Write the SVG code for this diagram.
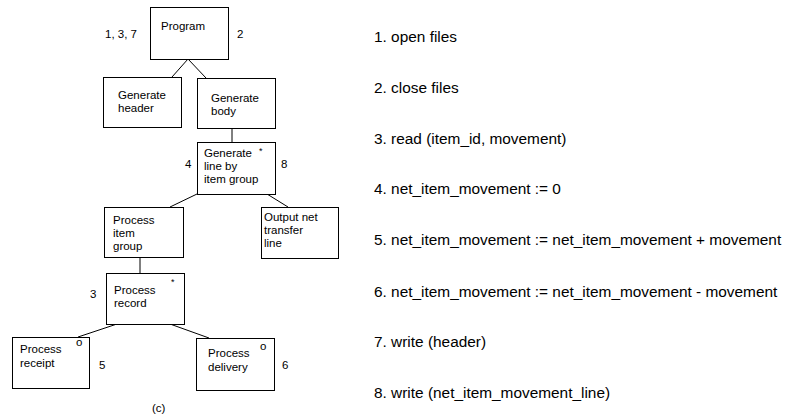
<svg xmlns="http://www.w3.org/2000/svg" width="785" height="417" viewBox="0 0 785 417">
<style>
rect.box{fill:#fff;stroke:#000;stroke-width:1}
.con line{stroke:#000;stroke-width:1}
text{font-family:"Liberation Sans",Arial,sans-serif;fill:#000}
.t{font-size:11.5px}
.s{font-size:9px}
.r{font-size:15.4px}
</style>
<rect width="785" height="417" fill="#fff"/>
<g class="con" id="connectors">
<line x1="188" y1="59" x2="172" y2="77"/>
<line x1="188" y1="59" x2="206" y2="78"/>
<line x1="232" y1="128" x2="232" y2="142"/>
<line x1="197" y1="194" x2="170" y2="207"/>
<line x1="267" y1="194" x2="288" y2="207"/>
<line x1="140" y1="257" x2="140" y2="273"/>
<line x1="117" y1="324" x2="78" y2="337"/>
<line x1="170" y1="324" x2="209" y2="338"/>
</g>
<g id="program">
<rect class="box" x="150.5" y="7.5" width="78" height="52"/>
<text class="t" x="161" y="30">Program</text>
<text class="t" x="105" y="38">1, 3, 7</text>
<text class="t" x="237" y="38">2</text>
</g>
<g id="gen-header">
<rect class="box" x="103.5" y="77.5" width="78" height="50"/>
<text class="t" x="118" y="99">Generate</text>
<text class="t" x="118" y="112">header</text>
</g>
<g id="gen-body">
<rect class="box" x="197.5" y="78.5" width="78" height="50"/>
<text class="t" x="211" y="102">Generate</text>
<text class="t" x="211" y="115">body</text>
</g>
<g id="gen-line">
<rect class="box" x="197.5" y="142.5" width="78" height="52"/>
<text class="t" x="204" y="157">Generate</text>
<text class="t" x="204" y="170">line by</text>
<text class="t" x="204" y="183">item group</text>
<text class="s" x="259" y="154">*</text>
<text class="t" x="185" y="168">4</text>
<text class="t" x="281" y="168">8</text>
</g>
<g id="proc-item-group">
<rect class="box" x="104.5" y="207.5" width="79" height="50"/>
<text class="t" x="113" y="224">Process</text>
<text class="t" x="113" y="237">item</text>
<text class="t" x="113" y="250">group</text>
</g>
<g id="output-net">
<rect class="box" x="261.5" y="207.5" width="77" height="51"/>
<text class="t" x="264" y="221">Output net</text>
<text class="t" x="264" y="234">transfer</text>
<text class="t" x="264" y="247">line</text>
</g>
<g id="proc-record">
<rect class="box" x="106.5" y="273.5" width="78" height="51"/>
<text class="t" x="114" y="294">Process</text>
<text class="t" x="114" y="307">record</text>
<text class="s" x="171" y="285">*</text>
<text class="t" x="90" y="298">3</text>
</g>
<g id="proc-receipt">
<rect class="box" x="12.5" y="337.5" width="77" height="51"/>
<text class="t" x="20" y="353">Process</text>
<text class="t" x="20" y="367">receipt</text>
<text class="t" x="76" y="346">o</text>
<text class="t" x="99" y="369">5</text>
</g>
<g id="proc-delivery">
<rect class="box" x="196.5" y="338.5" width="78" height="52"/>
<text class="t" x="208" y="357">Process</text>
<text class="t" x="208" y="371">delivery</text>
<text class="t" x="260" y="350">o</text>
<text class="t" x="282" y="369">6</text>
</g>
<text class="t" x="152" y="412">(c)</text>
<g id="legend">
<text class="r" x="374" y="42">1. open files</text>
<text class="r" x="374" y="93">2. close files</text>
<text class="r" x="374" y="144">3. read (item_id, movement)</text>
<text class="r" x="374" y="194">4. net_item_movement := 0</text>
<text class="r" x="374" y="245">5. net_item_movement := net_item_movement + movement</text>
<text class="r" x="374" y="297">6. net_item_movement := net_item_movement - movement</text>
<text class="r" x="374" y="347">7. write (header)</text>
<text class="r" x="374" y="398">8. write (net_item_movement_line)</text>
</g>
</svg>
